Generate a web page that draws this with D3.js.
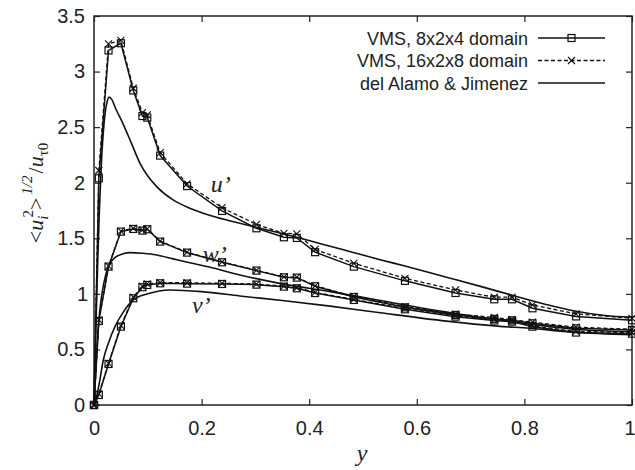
<!DOCTYPE html>
<html>
<head>
<meta charset="utf-8">
<script src="https://cdn.jsdelivr.net/npm/d3@7"></script>
<style>
  body { margin: 0; background: #fff; }
  text { fill: #222; }
  .tick text { font-family: "Liberation Sans", Arial, sans-serif; font-size: 20px; }
  .lbl { font-family: "Liberation Serif", "Times New Roman", serif; font-style: italic; }
</style>
</head>
<body>
<div id="chart"></div>
<script>
// VMS sample positions (same for every component)
var vmsY = [0, 0.009, 0.027, 0.05, 0.073, 0.09, 0.099, 0.123, 0.173, 0.238, 0.302, 0.353, 0.377, 0.411, 0.483, 0.578, 0.672, 0.744, 0.777, 0.815, 0.896, 1.0];

// VMS, 8x2x4 domain
var coarseU = [0, 2.04, 3.19, 3.255, 2.83, 2.60, 2.586, 2.244, 1.97, 1.746, 1.59, 1.509, 1.503, 1.375, 1.245, 1.117, 1.008, 0.951, 0.951, 0.87, 0.797, 0.762];
var coarseW = [0, 0.756, 1.245, 1.56, 1.584, 1.569, 1.581, 1.47, 1.371, 1.284, 1.209, 1.149, 1.146, 1.068, 0.972, 0.879, 0.81, 0.775, 0.762, 0.735, 0.69, 0.675];
var coarseV = [0, 0.09, 0.369, 0.705, 0.96, 1.06, 1.08, 1.095, 1.092, 1.089, 1.083, 1.065, 1.05, 1.007, 0.945, 0.861, 0.795, 0.76, 0.75, 0.705, 0.652, 0.642];

// VMS, 16x2x8 domain
var fineU = [0, 2.11, 3.25, 3.28, 2.85, 2.63, 2.61, 2.27, 1.99, 1.775, 1.625, 1.545, 1.54, 1.40, 1.275, 1.14, 1.035, 0.97, 0.97, 0.90, 0.82, 0.78];
var fineW = [0, 0.765, 1.25, 1.565, 1.59, 1.575, 1.585, 1.475, 1.375, 1.288, 1.212, 1.152, 1.15, 1.072, 0.977, 0.885, 0.818, 0.788, 0.768, 0.745, 0.70, 0.682];
var fineV = [0, 0.1, 0.375, 0.715, 0.97, 1.07, 1.09, 1.1, 1.1, 1.095, 1.088, 1.07, 1.055, 1.013, 0.95, 0.868, 0.802, 0.768, 0.757, 0.712, 0.662, 0.652];

// del Alamo & Jimenez (DNS)
var dnsUy = [0, 0.002, 0.004, 0.007, 0.01, 0.014, 0.019, 0.024, 0.028, 0.033, 0.04, 0.054, 0.07, 0.0855, 0.1, 0.1165, 0.147, 0.178, 0.216, 0.25, 0.296, 0.34, 0.377, 0.43, 0.48, 0.53, 0.578, 0.655, 0.72, 0.779, 0.84, 0.891, 0.95, 1.0];
var dnsU  = [0, 0.4, 0.78, 1.3, 1.75, 2.2, 2.55, 2.72, 2.77, 2.75, 2.67, 2.53, 2.35, 2.175, 2.06, 1.965, 1.845, 1.77, 1.705, 1.66, 1.605, 1.555, 1.51, 1.44, 1.375, 1.31, 1.25, 1.15, 1.065, 0.985, 0.905, 0.848, 0.805, 0.79];
var dnsWy = [0, 0.003, 0.006, 0.009, 0.013, 0.018, 0.0266, 0.04, 0.054, 0.067, 0.09, 0.1165, 0.147, 0.178, 0.216, 0.271, 0.35, 0.439, 0.532, 0.65, 0.75, 0.815, 0.9, 1.0];
var dnsW  = [0, 0.3, 0.56, 0.76, 0.94, 1.09, 1.245, 1.33, 1.36, 1.371, 1.365, 1.35, 1.315, 1.28, 1.24, 1.17, 1.09, 1.02, 0.94, 0.84, 0.765, 0.725, 0.68, 0.66];
var dnsVy = [0, 0.005, 0.01, 0.0173, 0.027, 0.039, 0.055, 0.073, 0.1, 0.141, 0.2, 0.271, 0.35, 0.439, 0.532, 0.655, 0.75, 0.81, 0.891, 1.0];
var dnsV  = [0, 0.08, 0.2, 0.405, 0.56, 0.705, 0.84, 0.945, 1.0, 1.035, 1.02, 0.981, 0.94, 0.89, 0.83, 0.755, 0.71, 0.69, 0.655, 0.632];

var xTicks = [0, 0.2, 0.4, 0.6, 0.8, 1];
var yTicks = [0, 0.5, 1, 1.5, 2, 2.5, 3, 3.5];
var legendNames = ["VMS, 8x2x4 domain", "VMS, 16x2x8 domain", "del Alamo & Jimenez"];

var W = 635, H = 470;
var margin = {top: 16, right: 3, bottom: 65, left: 94};
var width = W - margin.left - margin.right,
    height = H - margin.top - margin.bottom;

var svg = d3.select("#chart").append("svg")
    .attr("width", W).attr("height", H);
var g = svg.append("g")
    .attr("transform", "translate(" + margin.left + "," + margin.top + ")");

var x = d3.scaleLinear().domain([0, 1]).range([0, width]);
var y = d3.scaleLinear().domain([0, 3.5]).range([height, 0]);

// axes, gnuplot style: ticks inward, mirrored on top/right
function styleAxis(sel) {
  sel.select(".domain").remove();
  sel.selectAll(".tick line").attr("stroke", "#222").attr("stroke-width", 1.2);
}
g.append("g").attr("transform", "translate(0," + height + ")")
  .call(d3.axisBottom(x).tickValues(xTicks).tickSize(-6).tickPadding(16).tickFormat(d3.format("")))
  .call(styleAxis);
g.append("g")
  .call(d3.axisLeft(y).tickValues(yTicks).tickSize(-6).tickPadding(9).tickFormat(d3.format("")))
  .call(styleAxis);
g.append("g")
  .call(d3.axisTop(x).tickValues(xTicks).tickSize(-6).tickFormat(""))
  .call(styleAxis);
g.append("g").attr("transform", "translate(" + width + ",0)")
  .call(d3.axisRight(y).tickValues(yTicks).tickSize(-6).tickFormat(""))
  .call(styleAxis);
g.selectAll(".tick text").attr("fill", "#222");
// last x label sits right on the window edge
g.selectAll(".tick text").filter(function(d) { return d === 1; })
  .attr("text-anchor", "end").attr("dx", 3);

g.append("rect")
  .attr("width", width).attr("height", height)
  .attr("fill", "none").attr("stroke", "#222").attr("stroke-width", 1.5);

var line = d3.line().x(function(d) { return x(d[0]); }).y(function(d) { return y(d[1]); });
var smooth = d3.line().curve(d3.curveMonotoneX)
  .x(function(d) { return x(d[0]); }).y(function(d) { return y(d[1]); });

function pairs(xs, ys) { return xs.map(function(v, i) { return [v, ys[i]]; }); }

var plot = g.append("g");

// DNS reference curves
[[dnsUy, dnsU], [dnsWy, dnsW], [dnsVy, dnsV]].forEach(function(s) {
  plot.append("path").attr("d", smooth(pairs(s[0], s[1])))
    .attr("fill", "none").attr("stroke", "#111").attr("stroke-width", 1.6);
});

// fine (dashed) runs
[fineU, fineW, fineV].forEach(function(s) {
  plot.append("path").attr("d", line(pairs(vmsY, s)))
    .attr("fill", "none").attr("stroke", "#111").attr("stroke-width", 1.3)
    .attr("stroke-dasharray", "4,2.5");
});
// coarse (solid) runs
[coarseU, coarseW, coarseV].forEach(function(s) {
  plot.append("path").attr("d", line(pairs(vmsY, s)))
    .attr("fill", "none").attr("stroke", "#111").attr("stroke-width", 1.5);
});

function squareMark(sel, px, py) {
  sel.append("rect").attr("x", px - 3.5).attr("y", py - 3.5)
    .attr("width", 7).attr("height", 7)
    .attr("fill", "none").attr("stroke", "#111").attr("stroke-width", 1.2);
}
function crossMark(sel, px, py) {
  sel.append("path")
    .attr("d", "M" + (px - 3.5) + "," + (py - 3.5) + "L" + (px + 3.5) + "," + (py + 3.5) +
               "M" + (px - 3.5) + "," + (py + 3.5) + "L" + (px + 3.5) + "," + (py - 3.5))
    .attr("stroke", "#111").attr("stroke-width", 1.1);
}
[coarseU, coarseW, coarseV].forEach(function(s) {
  s.forEach(function(v, i) { squareMark(plot, x(vmsY[i]), y(v)); });
});
[fineU, fineW, fineV].forEach(function(s) {
  s.forEach(function(v, i) { crossMark(plot, x(vmsY[i]), y(v)); });
});

// component labels
var comps = [["u", 0.217, 1.92], ["w", 0.202, 1.288], ["v", 0.182, 0.83]];
comps.forEach(function(c) {
  g.append("text").attr("class", "lbl")
    .attr("x", x(c[1])).attr("y", y(c[2]))
    .style("font-size", "24px").text(c[0] + "\u2019");
});

// legend
var legend = svg.append("g").attr("class", "legend");
legendNames.forEach(function(name, i) {
  var cy = 38 + i * 22.5;
  legend.append("text")
    .attr("x", 528).attr("y", cy + 6.5).attr("text-anchor", "end")
    .style("font-family", "Liberation Sans, Arial, sans-serif").style("font-size", "18px")
    .text(name);
  var ln = legend.append("line")
    .attr("x1", 538).attr("x2", 605).attr("y1", cy).attr("y2", cy)
    .attr("stroke", "#111").attr("stroke-width", i == 1 ? 1.3 : 1.5);
  if (i == 1) ln.attr("stroke-dasharray", "4,2.5");
  if (i == 0) squareMark(legend, 571.5, cy);
  if (i == 1) crossMark(legend, 571.5, cy);
});

// axis titles
svg.append("text").attr("class", "lbl")
  .attr("x", 362).attr("y", 461).attr("text-anchor", "middle")
  .style("font-size", "24px").text("y");

var yl = svg.append("text")
  .attr("transform", "translate(43,193) rotate(-90)")
  .attr("text-anchor", "middle")
  .style("font-family", "Liberation Serif, Times New Roman, serif")
  .style("font-size", "22px");
yl.append("tspan").text("<");
yl.append("tspan").style("font-style", "italic").text("u");
yl.append("tspan").attr("dy", 5).style("font-size", "15px").style("font-style", "italic").text("i");
yl.append("tspan").attr("dy", -15).attr("dx", -2).style("font-size", "15px").text("2");
yl.append("tspan").attr("dy", 10).text(">");
yl.append("tspan").attr("dy", -11).attr("dx", 3).style("font-size", "15px").style("font-style", "italic").text("1/2");
yl.append("tspan").attr("dy", 11).attr("dx", 2).text("/");
yl.append("tspan").style("font-style", "italic").text("u");
yl.append("tspan").attr("dy", 5).style("font-size", "15px").text("\u03c40");
</script>
</body>
</html>
